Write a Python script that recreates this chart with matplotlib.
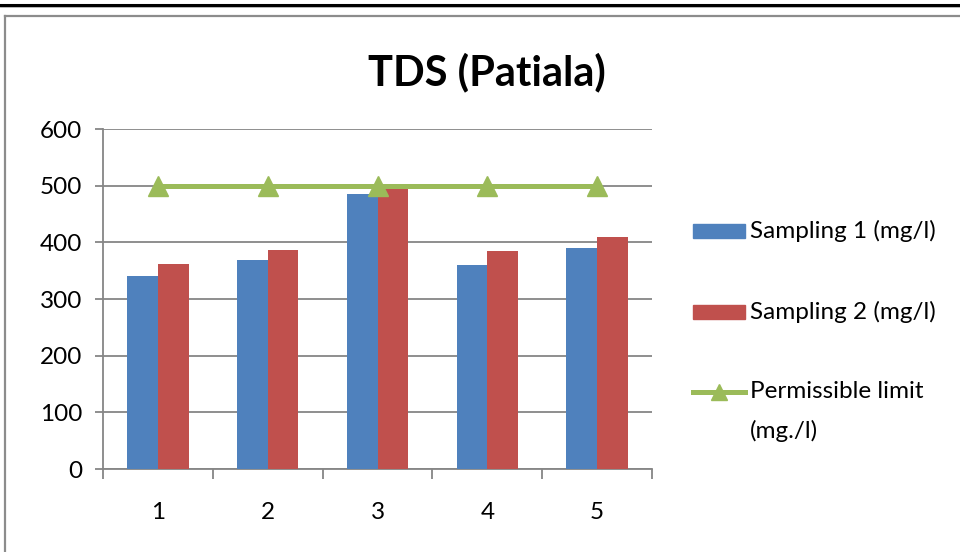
import matplotlib
matplotlib.use("Agg")
import matplotlib.pyplot as plt
from matplotlib.lines import Line2D
from matplotlib.patches import Rectangle

plt.rcParams['font.family'] = ['Lato', 'DejaVu Sans']

# Data
sites = ["1", "2", "3", "4", "5"]
sampling_1 = [340, 368, 486, 360, 390]
sampling_2 = [362, 387, 495, 385, 409]
permissible_limit = [500, 500, 500, 500, 500]
y_ticks = [0, 100, 200, 300, 400, 500, 600]

blue = "#4F81BD"
red = "#C0504D"
green = "#9BBB59"
grid_c = "#868686"
fs = 17.5

W, H = 960, 552
fig = plt.figure(figsize=(W / 100, H / 100), dpi=100)

def fx(px):
    return px / W

def fy(py):
    return 1 - py / H

# Page rule at the top and chart frame
fig.add_artist(Line2D([0, 1], [fy(5), fy(5)], color="black", lw=2.2))
fig.add_artist(Line2D([0, 1], [fy(6.8), fy(6.8)], color="#aaaaaa", lw=0.6))
fig.add_artist(Line2D([fx(5), fx(5)], [0, fy(16)], color="#8c8c8c", lw=1.6))
fig.add_artist(Line2D([fx(5), 1], [fy(16), fy(16)], color="#8c8c8c", lw=1.6))

ax = fig.add_axes([fx(103), fy(469), fx(652) - fx(103), fy(129) - fy(469)])

x = list(range(1, len(sites) + 1))
bw = 0.28
ax.bar([v - bw / 2 for v in x], sampling_1, width=bw, color=blue, zorder=3)
ax.bar([v + bw / 2 for v in x], sampling_2, width=bw, color=red, zorder=3)
ax.plot(x, permissible_limit, color=green, lw=3.6, marker="^", markersize=14,
        zorder=4, clip_on=False)

ax.set_xlim(0.5, 5.5)
ax.set_ylim(0, 600)
ax.set_yticks(y_ticks)
ax.set_yticklabels([str(t) for t in y_ticks], fontsize=fs)
ax.yaxis.grid(True, color=grid_c, lw=1.3, zorder=0)
ax.tick_params(axis="y", length=6, width=1.3, color=grid_c, pad=9)

# Category labels centred, boundary ticks between categories
ax.set_xticks([0.5 + i for i in range(6)])
ax.set_xticklabels([""] * 6)
ax.tick_params(axis="x", length=7, width=1.3, color=grid_c, direction="out")
for xi, lab in zip(x, sites):
    ax.text(xi, -0.128, lab, transform=ax.get_xaxis_transform(),
            ha="center", va="center", fontsize=fs)

for s in ["top", "right"]:
    ax.spines[s].set_visible(False)
for s in ["left", "bottom"]:
    ax.spines[s].set_color(grid_c)
    ax.spines[s].set_linewidth(1.3)

fig.text(fx(487), fy(72), "TDS (Patiala)", ha="center", va="center",
         fontsize=30, fontweight="bold")

# Legend keys
fig.add_artist(Rectangle((fx(693), fy(238)), fx(52), fy(224) - fy(238),
                         color=blue))
fig.text(fx(750), fy(231), "Sampling 1 (mg/l)", ha="left", va="center",
         fontsize=fs)
fig.add_artist(Rectangle((fx(693), fy(319)), fx(52), fy(305) - fy(319),
                         color=red))
fig.text(fx(750), fy(312), "Sampling 2 (mg/l)", ha="left", va="center",
         fontsize=fs)
fig.add_artist(Line2D([fx(693), fx(745)], [fy(392), fy(392)], color=green,
                      lw=3.6))
fig.add_artist(Line2D([fx(719)], [fy(392)], color=green, marker="^",
                      markersize=12, lw=0))
fig.text(fx(750), fy(392), "Permissible limit", ha="left", va="center",
         fontsize=fs)
fig.text(fx(750), fy(431), "(mg./l)", ha="left", va="center", fontsize=fs)

fig.savefig("out.png", dpi=100)
